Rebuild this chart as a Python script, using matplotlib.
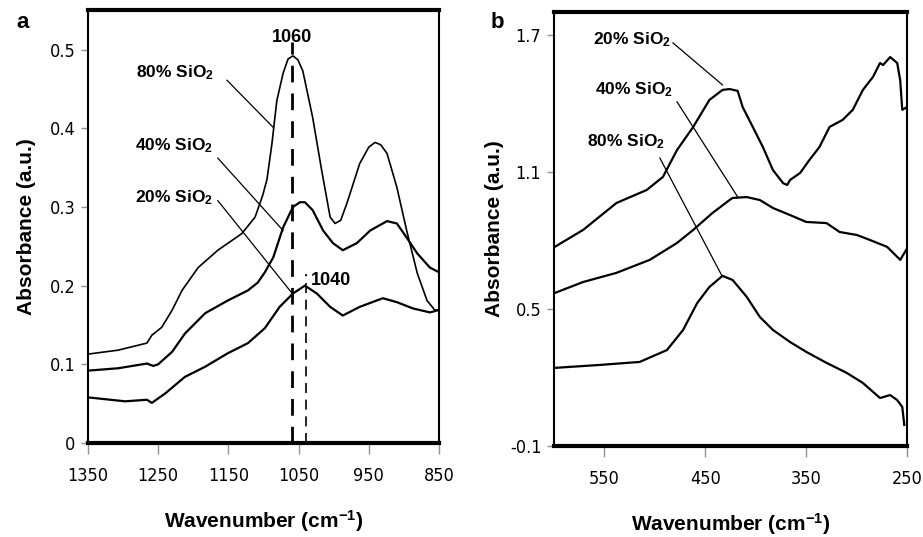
import numpy as np
import matplotlib
matplotlib.use('Agg')
import matplotlib.pyplot as plt

plt.rcParams['font.family'] = ['Liberation Sans', 'DejaVu Sans']
plt.rcParams['mathtext.fontset'] = 'custom'
plt.rcParams['mathtext.rm'] = 'Liberation Sans:bold'
plt.rcParams['mathtext.bf'] = 'Liberation Sans:bold'
plt.rcParams['mathtext.default'] = 'bf'

# panel a : 1350-850 cm-1
a_wn_80 = [1350, 1307, 1266, 1259, 1245, 1230, 1216, 1193, 1165, 1131, 1112, 1101, 1095, 1088,
           1081, 1072, 1065, 1058, 1051, 1044, 1030, 1017, 1005, 998, 990, 981, 963, 950, 941,
           933, 924, 910, 896, 881, 867, 856, 850]
a_ab_80 = [0.113, 0.118, 0.127, 0.137, 0.147, 0.169, 0.194, 0.223, 0.245, 0.266, 0.287, 0.315, 0.335, 0.380,
           0.435, 0.470, 0.488, 0.492, 0.487, 0.473, 0.414, 0.346, 0.287, 0.279, 0.283, 0.305, 0.355, 0.376, 0.382,
           0.379, 0.368, 0.325, 0.270, 0.216, 0.181, 0.169, 0.169]

a_wn_40 = [1350, 1307, 1266, 1257, 1250, 1230, 1212, 1183, 1151, 1122, 1108, 1098, 1086, 1072,
           1058, 1048, 1041, 1030, 1015, 1001, 987, 967, 948, 924, 910, 896, 881, 863, 850]
a_ab_40 = [0.092, 0.095, 0.101, 0.098, 0.100, 0.116, 0.139, 0.165, 0.181, 0.194, 0.204, 0.217, 0.236, 0.274,
           0.300, 0.306, 0.306, 0.296, 0.270, 0.254, 0.245, 0.254, 0.270, 0.282, 0.279, 0.261, 0.241, 0.223, 0.217]

a_wn_20 = [1350, 1297, 1266, 1259, 1240, 1212, 1183, 1151, 1122, 1098, 1077, 1058, 1041, 1024,
           1005, 987, 963, 930, 910, 887, 863, 850]
a_ab_20 = [0.058, 0.053, 0.055, 0.051, 0.063, 0.084, 0.097, 0.114, 0.127, 0.146, 0.173, 0.190, 0.200, 0.190,
           0.173, 0.162, 0.173, 0.184, 0.179, 0.171, 0.166, 0.169]

# panel b : 600-250 cm-1
b_wn_20 = [599, 571, 538, 508, 492, 478, 462, 446, 433, 426, 418, 413, 403, 393, 383, 373, 369, 366,
           356, 347, 337, 327, 314, 304, 294, 284, 277, 274, 267, 260, 257, 255, 250]
b_ab_20 = [0.772, 0.846, 0.964, 1.021, 1.078, 1.196, 1.297, 1.415, 1.459, 1.463, 1.455, 1.384, 1.297, 1.209,
           1.108, 1.051, 1.043, 1.065, 1.096, 1.152, 1.209, 1.297, 1.328, 1.372, 1.459, 1.516, 1.577, 1.568,
           1.603, 1.577, 1.500, 1.372, 1.385]

b_wn_40 = [599, 571, 538, 505, 478, 462, 443, 426, 423, 409, 396, 383, 366, 350, 330, 317, 300, 287,
           270, 257, 250]
b_ab_40 = [0.570, 0.618, 0.658, 0.715, 0.789, 0.846, 0.920, 0.977, 0.986, 0.990, 0.977, 0.942, 0.911, 0.881,
           0.876, 0.837, 0.824, 0.802, 0.772, 0.715, 0.767]

b_wn_80 = [599, 554, 515, 488, 472, 458, 446, 433, 423, 409, 396, 383, 366, 350, 330, 310, 294, 277,
           267, 260, 255, 253]
b_ab_80 = [0.242, 0.255, 0.268, 0.320, 0.408, 0.526, 0.596, 0.645, 0.627, 0.553, 0.465, 0.408, 0.355, 0.312,
           0.264, 0.220, 0.176, 0.110, 0.123, 0.101, 0.071, -0.008]

a_xticks = [1350, 1250, 1150, 1050, 950, 850]
a_yticks = [0, 0.1, 0.2, 0.3, 0.4, 0.5]
a_yticklabels = ['0', '0.1', '0.2', '0.3', '0.4', '0.5']
b_xticks = [550, 450, 350, 250]
b_yticks = [-0.1, 0.5, 1.1, 1.7]
b_yticklabels = ['-0.1', '0.5', '1.1', '1.7']

peaks = [1060, 1040]

fig = plt.figure(figsize=(9.23, 5.37), dpi=100)
ax1 = fig.add_axes([0.0953, 0.175, 0.3803, 0.806])
ax2 = fig.add_axes([0.600, 0.1695, 0.383, 0.808])

lab_font = dict(fontsize=15, fontweight='bold')


def style(ax, ypad):
    for s in ['top', 'bottom']:
        ax.spines[s].set_linewidth(3)
    for s in ['left', 'right']:
        ax.spines[s].set_linewidth(1.5)
    ax.tick_params(axis='x', direction='out', length=8, width=1, color='#909090', pad=9)
    ax.tick_params(axis='y', direction='out', length=5, width=1, color='#909090', pad=4)
    for t in ax.get_xticklabels() + ax.get_yticklabels():
        t.set_family('DejaVu Sans')
        t.set_stretch('condensed')
        t.set_fontsize(13)
    ax.set_ylabel('Absorbance (a.u.)', labelpad=ypad, **lab_font)
    ax.set_xlabel('Wavenumber (cm$^{-1}$)', labelpad=17, **lab_font)


# ---- panel a
ax1.plot(a_wn_80, a_ab_80, color='black', lw=1.2)
ax1.plot(a_wn_40, a_ab_40, color='black', lw=1.6)
ax1.plot(a_wn_20, a_ab_20, color='black', lw=1.6)
ax1.plot([peaks[0], peaks[0]], [0, 0.51], color='black', lw=2, dashes=(6, 4))
ax1.plot([peaks[1], peaks[1]], [0, 0.215], color='black', lw=1.2, dashes=(6, 4))
ax1.text(peaks[0], 0.505, str(peaks[0]), ha='center', va='bottom', fontsize=13, fontweight='bold')
ax1.text(1033, 0.207, str(peaks[1]), ha='left', va='center', fontsize=13, fontweight='bold')

ax1.set_xlim(1350, 850)
ax1.set_ylim(0, 0.55)
ax1.set_xticks(a_xticks)
ax1.set_yticks(a_yticks)
ax1.set_yticklabels(a_yticklabels)
style(ax1, 10)

a_labels = [('80% SiO$_2$', 1226, 0.471, 1152, 0.461, 1086, 0.401),
            ('40% SiO$_2$', 1227, 0.378, 1165, 0.362, 1072, 0.270),
            ('20% SiO$_2$', 1227, 0.312, 1165, 0.308, 1059, 0.190)]
for txt, tx, ty, x0, y0, x1, y1 in a_labels:
    ax1.text(tx, ty, txt, ha='center', va='center', fontsize=12.5, fontweight='bold')
    ax1.plot([x0, x1], [y0, y1], color='black', lw=0.9)

# ---- panel b
ax2.plot(b_wn_20, b_ab_20, color='black', lw=1.6)
ax2.plot(b_wn_40, b_ab_40, color='black', lw=1.6)
ax2.plot(b_wn_80, b_ab_80, color='black', lw=1.6)
ax2.set_xlim(600, 250)
ax2.set_ylim(-0.1, 1.8)
ax2.set_xticks(b_xticks)
ax2.set_yticks(b_yticks)
ax2.set_yticklabels(b_yticklabels)
style(ax2, 4)

b_labels = [('20% SiO$_2$', 523, 1.678, 482, 1.665, 433, 1.481),
            ('40% SiO$_2$', 521, 1.459, 478, 1.407, 418, 0.991),
            ('80% SiO$_2$', 529, 1.231, 495, 1.161, 434, 0.649)]
for txt, tx, ty, x0, y0, x1, y1 in b_labels:
    ax2.text(tx, ty, txt, ha='center', va='center', fontsize=12.5, fontweight='bold')
    ax2.plot([x0, x1], [y0, y1], color='black', lw=0.9)

fig.text(23 / 923, 1 - 22 / 537, 'a', ha='center', va='center', fontsize=16, fontweight='bold')
fig.text(497 / 923, 1 - 22 / 537, 'b', ha='center', va='center', fontsize=16, fontweight='bold')

fig.savefig('out.png', dpi=100)
